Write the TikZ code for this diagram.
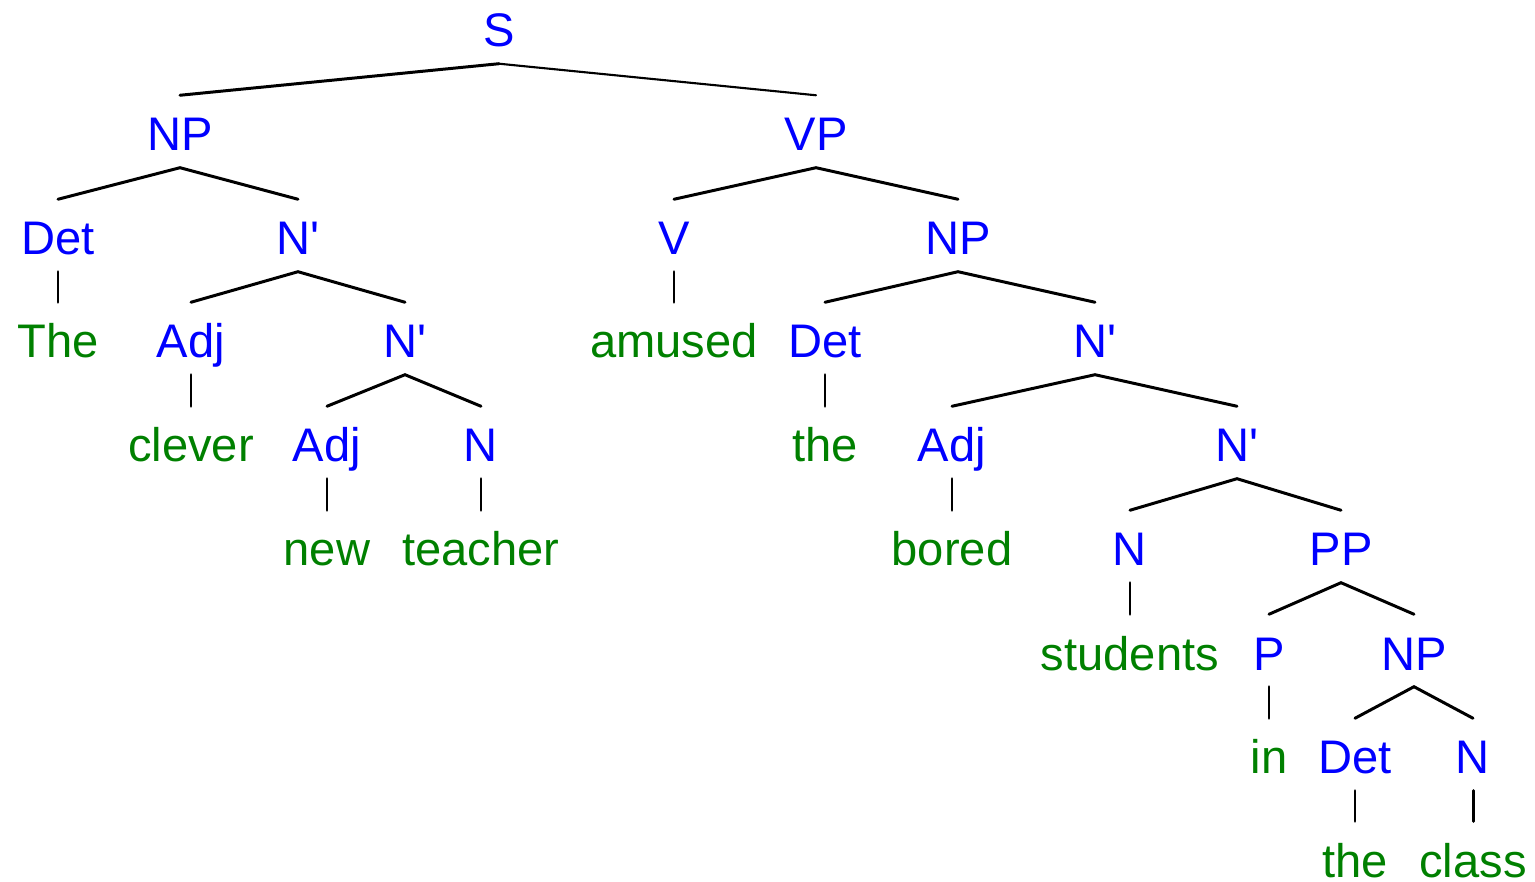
\documentclass[tikz,border=0pt]{standalone}
\usepackage{fontspec}
\setmainfont{Liberation Sans}
\definecolor{catblue}{RGB}{0,0,255}
\definecolor{wordgreen}{RGB}{0,128,0}
\newcommand{\treefont}{\fontsize{13.4pt}{16pt}\selectfont}
\newcommand{\Nbar}{N\textquotesingle}
\begin{document}
\begin{tikzpicture}[x=0.01cm,y=-0.01cm,
  cat/.style={text=catblue,font=\treefont,anchor=base,text height=0.43cm,text depth=0.04cm,inner xsep=0pt,inner ysep=0.12cm},
  word/.style={cat,text=wordgreen},
  edge/.style={line width=0.85pt,line cap=round},
  thinedge/.style={line width=0.6pt,line cap=round}]
\useasboundingbox (0,0) rectangle (1535,882);
% row 0
\node[cat] (S) at (499,47) {S};
% row 1
\node[cat] (NPa) at (180,151) {NP};
\node[cat] (VP) at (816,151) {VP};
% row 2
\node[cat] (Deta) at (58,255) {Det};
\node[cat] (Nba) at (298,255) {\Nbar};
\node[cat] (V) at (674,255) {V};
\node[cat] (NPb) at (958,255) {NP};
% row 3
\node[word] (The) at (58,358) {The};
\node[cat] (Adja) at (191,358) {Adj};
\node[cat] (Nbb) at (405,358) {\Nbar};
\node[word] (amused) at (674,358) {amused};
\node[cat] (Detb) at (825,358) {Det};
\node[cat] (Nbc) at (1095,358) {\Nbar};
% row 4
\node[word] (clever) at (191,462) {clever};
\node[cat] (Adjb) at (327,462) {Adj};
\node[cat] (Na) at (481,462) {N};
\node[word] (thea) at (825,462) {the};
\node[cat] (Adjc) at (952,462) {Adj};
\node[cat] (Nbd) at (1237,462) {\Nbar};
% row 5
\node[word] (new) at (327,566) {new};
\node[word] (teacher) at (481,566) {teacher};
\node[word] (bored) at (952,566) {bored};
\node[cat] (Nb) at (1130,566) {N};
\node[cat] (PP) at (1341,566) {PP};
% row 6
\node[word] (students) at (1130,670) {students};
\node[cat] (P) at (1269,670) {P};
\node[cat] (NPc) at (1414,670) {NP};
% row 7
\node[word] (in) at (1269,774) {in};
\node[cat] (Detc) at (1355,774) {Det};
\node[cat] (Nc) at (1473,774) {N};
% row 8
\node[word] (theb) at (1355,877) {the};
\node[word] (class) at (1473,877) {class};
% edges
\draw[edge] (S.south) -- (NPa.north);
\draw[thinedge] (S.south) -- (VP.north);
\draw[edge] (Deta.north) -- (NPa.south) -- (Nba.north);
\draw[edge] (V.north) -- (VP.south) -- (NPb.north);
\draw[edge] (Deta.south) -- (The.north);
\draw[edge] (Adja.north) -- (Nba.south) -- (Nbb.north);
\draw[edge] (V.south) -- (amused.north);
\draw[edge] (Detb.north) -- (NPb.south) -- (Nbc.north);
\draw[edge] (Adja.south) -- (clever.north);
\draw[edge] (Adjb.north) -- (Nbb.south) -- (Na.north);
\draw[edge] (Detb.south) -- (thea.north);
\draw[edge] (Adjc.north) -- (Nbc.south) -- (Nbd.north);
\draw[edge] (Adjb.south) -- (new.north);
\draw[edge] (Na.south) -- (teacher.north);
\draw[edge] (Adjc.south) -- (bored.north);
\draw[edge] (Nb.north) -- (Nbd.south) -- (PP.north);
\draw[edge] (Nb.south) -- (students.north);
\draw[edge] (P.north) -- (PP.south) -- (NPc.north);
\draw[edge] (P.south) -- (in.north);
\draw[edge] (Detc.north) -- (NPc.south) -- (Nc.north);
\draw[edge] (Detc.south) -- (theb.north);
\draw[edge] (Nc.south) -- (class.north);
\end{tikzpicture}
\end{document}
